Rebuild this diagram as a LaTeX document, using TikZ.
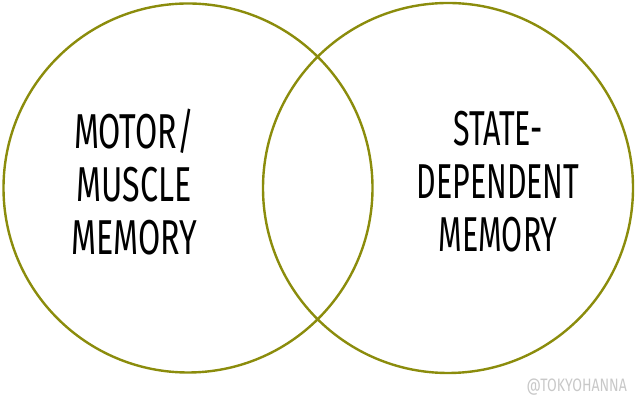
\documentclass[tikz,border=0pt]{standalone}
\usepackage{fontspec}
\newfontfamily\labelfont{Fira Sans}
\usepackage{xcolor}
\usetikzlibrary{positioning}

\definecolor{olivering}{RGB}{139,140,12}
\definecolor{markgray}{RGB}{200,200,200}

\begin{document}
\begin{tikzpicture}[x=1pt,y=1pt,
    ring/.style={circle, draw=olivering, line width=2.4pt, minimum size=#1, inner sep=0pt},
    memlabel/.style={align=center, font=\labelfont\fontsize{49}{53}\selectfont, xscale=0.62, inner sep=0pt}]

    % Rand
    \useasboundingbox (0,0) rectangle (640,409);

    % Cirkels
    \node[ring=369pt] (leftring) at (188,221) {};
    \node[ring=370pt] (rightring) at (448,221) {};

    % Teksten
    \node[memlabel, xscale=1.06] (motor) at (134,227) {MOTOR/\\MUSCLE\\MEMORY};
    \node[memlabel] (state) at (498,227) {STATE-\\DEPENDENT\\MEMORY};

    % Signatuur
    \node[font=\labelfont\fontsize{18}{18}\selectfont, text=markgray, xscale=0.78,
        anchor=base east, inner sep=0pt] (credit) at (627,17) {@TOKYOHANNA};

\end{tikzpicture}
\end{document}
